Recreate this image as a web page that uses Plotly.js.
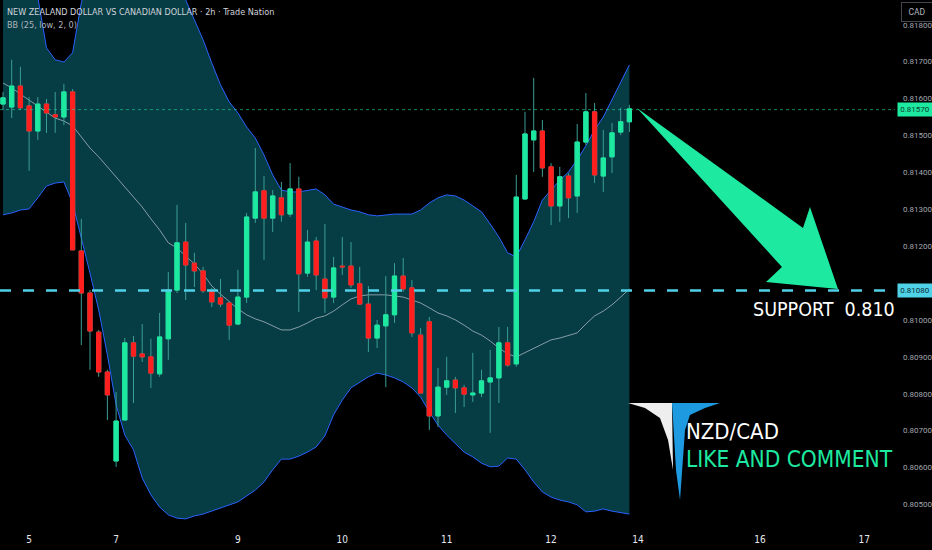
<!DOCTYPE html>
<html>
<head>
<meta charset="utf-8">
<script src="https://cdn.plot.ly/plotly-3.0.1.min.js"></script>
<style>
  html, body { margin: 0; padding: 0; background: #000; }
  #chart { width: 932px; height: 550px; }
</style>
</head>
<body>
<div id="chart"></div>
<script>
// ─── Data (NZDCAD 2h candles) ─────────────────────────────────────────────────

const candleOpen = [
  0.81585, 0.81577, 0.81634, 0.81580, 0.81512, 0.81585, 0.81556, 0.81550, 0.81618, 0.81187,
  0.81073, 0.80967, 0.80859, 0.80618, 0.80729, 0.80938, 0.80908, 0.80900, 0.80854, 0.80949,
  0.81081, 0.81211, 0.81154, 0.81133, 0.81079, 0.81060, 0.81046, 0.80989, 0.81062, 0.81276,
  0.81350, 0.81276, 0.81331, 0.81287, 0.81355, 0.81127, 0.81214, 0.81111, 0.81062, 0.81146,
  0.81146, 0.81098, 0.81043, 0.80951, 0.80984, 0.81014, 0.81119, 0.81087, 0.80959, 0.80995,
  0.80740, 0.80818, 0.80837, 0.80816, 0.80797, 0.80802, 0.80832, 0.80843, 0.80938, 0.80881,
  0.81328, 0.81488, 0.81512, 0.81415, 0.81309, 0.81390, 0.81336, 0.81482, 0.81564, 0.81390,
  0.81442, 0.81509, 0.81537,
];
const candleHigh = [
  0.81618, 0.81705, 0.81686, 0.81604, 0.81604, 0.81599, 0.81618, 0.81640, 0.81626, 0.81274,
  0.81081, 0.80973, 0.80865, 0.80805, 0.80951, 0.80957, 0.80989, 0.80949, 0.81019, 0.81130,
  0.81312, 0.81263, 0.81182, 0.81144, 0.81087, 0.81111, 0.81049, 0.81136, 0.81290, 0.81466,
  0.81390, 0.81352, 0.81374, 0.81425, 0.81388, 0.81244, 0.81225, 0.81260, 0.81171, 0.81225,
  0.81211, 0.81144, 0.81092, 0.81000, 0.81119, 0.81154, 0.81168, 0.81108, 0.80978, 0.81008,
  0.80870, 0.80900, 0.80846, 0.80824, 0.80911, 0.80865, 0.80919, 0.80981, 0.80981, 0.81393,
  0.81564, 0.81656, 0.81542, 0.81425, 0.81415, 0.81398, 0.81531, 0.81615, 0.81588, 0.81515,
  0.81534, 0.81575, 0.81583,
];
const candleLow = [
  0.81569, 0.81547, 0.81569, 0.81404, 0.81488, 0.81507, 0.81507, 0.81528, 0.81190, 0.80932,
  0.80865, 0.80846, 0.80729, 0.80602, 0.80729, 0.80775, 0.80886, 0.80816, 0.80846, 0.80892,
  0.81073, 0.81054, 0.81089, 0.81073, 0.81035, 0.81035, 0.80946, 0.80986, 0.81046, 0.81263,
  0.81163, 0.81238, 0.81266, 0.81279, 0.81022, 0.81117, 0.81081, 0.81019, 0.81046, 0.81122,
  0.81087, 0.81041, 0.80913, 0.80924, 0.80818, 0.80992, 0.81076, 0.80954, 0.80802, 0.80702,
  0.80710, 0.80797, 0.80748, 0.80764, 0.80778, 0.80791, 0.80694, 0.80775, 0.80873, 0.80873,
  0.81325, 0.81401, 0.81388, 0.81257, 0.81266, 0.81276, 0.81290, 0.81474, 0.81371, 0.81347,
  0.81398, 0.81501, 0.81509,
];
const candleClose = [
  0.81602, 0.81634, 0.81575, 0.81512, 0.81585, 0.81561, 0.81550, 0.81618, 0.81190, 0.81073,
  0.80970, 0.80859, 0.80797, 0.80726, 0.80938, 0.80902, 0.80900, 0.80856, 0.80954, 0.81081,
  0.81209, 0.81149, 0.81133, 0.81079, 0.81049, 0.81043, 0.80986, 0.81062, 0.81279, 0.81347,
  0.81276, 0.81336, 0.81285, 0.81355, 0.81125, 0.81211, 0.81122, 0.81060, 0.81141, 0.81144,
  0.81095, 0.81043, 0.80951, 0.80986, 0.81014, 0.81119, 0.81084, 0.80965, 0.80802, 0.80740,
  0.80818, 0.80835, 0.80816, 0.80799, 0.80802, 0.80835, 0.80843, 0.80938, 0.80878, 0.81333,
  0.81504, 0.81512, 0.81412, 0.81309, 0.81388, 0.81331, 0.81482, 0.81564, 0.81393, 0.81439,
  0.81507, 0.81537, 0.81572,
];

// Bollinger Bands (25, low, 2, 0) as drawn; values above the top edge are estimates
const bbUpper = [
  0.81949, 0.81935, 0.81921, 0.81900, 0.81875, 0.81737, 0.81705, 0.81699, 0.81724, 0.81859,
  0.81949, 0.82003, 0.82030, 0.82043, 0.82043, 0.82030, 0.82016, 0.81989, 0.81962, 0.81935,
  0.81900, 0.81867, 0.81813, 0.81759, 0.81696, 0.81637, 0.81591, 0.81561, 0.81523, 0.81493,
  0.81447, 0.81393, 0.81352, 0.81347, 0.81347, 0.81352, 0.81355, 0.81339, 0.81314, 0.81306,
  0.81298, 0.81293, 0.81285, 0.81282, 0.81285, 0.81287, 0.81287, 0.81287, 0.81298, 0.81317,
  0.81331, 0.81339, 0.81336, 0.81325, 0.81309, 0.81293, 0.81260, 0.81225, 0.81182, 0.81171,
  0.81217, 0.81266, 0.81325, 0.81352, 0.81379, 0.81401, 0.81434, 0.81472, 0.81515, 0.81550,
  0.81596, 0.81645, 0.81691,
];
const bbBasis = [
  0.81642, 0.81629, 0.81612, 0.81596, 0.81580, 0.81564, 0.81547, 0.81539, 0.81526, 0.81496,
  0.81466, 0.81442, 0.81415, 0.81385, 0.81358, 0.81331, 0.81306, 0.81274, 0.81244, 0.81209,
  0.81195, 0.81173, 0.81152, 0.81125, 0.81092, 0.81070, 0.81049, 0.81030, 0.81014, 0.81003,
  0.80995, 0.80984, 0.80973, 0.80973, 0.80981, 0.80992, 0.81005, 0.81011, 0.81024, 0.81041,
  0.81057, 0.81065, 0.81068, 0.81068, 0.81068, 0.81065, 0.81062, 0.81054, 0.81046, 0.81033,
  0.81019, 0.81011, 0.81000, 0.80986, 0.80970, 0.80959, 0.80943, 0.80924, 0.80908, 0.80900,
  0.80911, 0.80924, 0.80935, 0.80946, 0.80951, 0.80957, 0.80965, 0.80989, 0.81011, 0.81024,
  0.81041, 0.81062, 0.81084,
];
const bbLower = [
  0.81285, 0.81290, 0.81298, 0.81301, 0.81331, 0.81363, 0.81371, 0.81374, 0.81317, 0.81225,
  0.81127, 0.81027, 0.80905, 0.80770, 0.80688, 0.80648, 0.80572, 0.80526, 0.80493, 0.80472,
  0.80463, 0.80461, 0.80469, 0.80474, 0.80482, 0.80491, 0.80499, 0.80507, 0.80523, 0.80539,
  0.80561, 0.80594, 0.80623, 0.80623, 0.80631, 0.80642, 0.80656, 0.80686, 0.80743, 0.80783,
  0.80816, 0.80832, 0.80846, 0.80856, 0.80851, 0.80843, 0.80832, 0.80816, 0.80791, 0.80751,
  0.80715, 0.80688, 0.80664, 0.80642, 0.80629, 0.80612, 0.80602, 0.80604, 0.80626, 0.80623,
  0.80594, 0.80561, 0.80534, 0.80520, 0.80512, 0.80507, 0.80499, 0.80480, 0.80482, 0.80488,
  0.80482, 0.80477, 0.80474,
];

// Day labels on the time axis (bar index → date)
const dayTickIdx  = [3, 13, 27, 39, 51, 63, 73, 87, 99];
const dayTickText = ['5', '7', '9', '10', '11', '12', '14', '16', '17'];

// 0.81100 sits under the support tag, so it is left out as in the picture
const priceTicks = [0.805, 0.806, 0.807, 0.808, 0.809, 0.810,
                    0.812, 0.813, 0.814, 0.815, 0.816, 0.817, 0.818];
const lastPrice = 0.81570;
const supportPrice = 0.81080;

// ─── Look ─────────────────────────────────────────────────────────────────────

const GREEN = '#1de9a0';
const RED = '#ff1f1f';
const WICK = '#3a9e94';
const BAND_FILL = '#063c43';
const BAND_LINE = '#2962ff';
const CYAN = '#4fd1e8';
const NARROW = '"Liberation Sans Narrow", "DejaVu Sans Condensed", "Roboto Condensed", sans-serif';

const X_RANGE = [-0.345, 102.53];
const Y_RANGE = [0.80439, 0.81867];

// plot area in pixels, for the hand-drawn overlays (arrow, logo)
const PW = 895, PH = 527;
const px = x => x / PW;
const py = y => 1 - y / PH;
const poly = pts => 'M' + pts.map(([x, y]) => `${px(x).toFixed(4)},${py(y).toFixed(4)}`).join('L') + 'Z';

const idx = candleClose.map((_, i) => i);

// ─── Traces ───────────────────────────────────────────────────────────────────

const traces = [
  // band: upper line, lower line filled back to upper, basis
  {
    type: 'scatter', mode: 'lines', x: idx, y: bbUpper,
    line: { color: BAND_LINE, width: 1 }, hoverinfo: 'skip',
  },
  {
    type: 'scatter', mode: 'lines', x: idx, y: bbLower,
    line: { color: BAND_LINE, width: 1 }, fill: 'tonexty', fillcolor: BAND_FILL,
    hoverinfo: 'skip',
  },
  {
    type: 'scatter', mode: 'lines', x: idx, y: bbBasis,
    line: { color: 'rgba(178,190,200,0.75)', width: 1 }, hoverinfo: 'skip',
  },
  // wicks (drawn on the overlay subplot so they sit above the band fill)
  {
    type: 'candlestick', x: idx, xaxis: 'x2', yaxis: 'y2',
    open: candleOpen, high: candleHigh, low: candleLow, close: candleClose,
    increasing: { line: { color: WICK, width: 1 }, fillcolor: 'rgba(0,0,0,0)' },
    decreasing: { line: { color: WICK, width: 1 }, fillcolor: 'rgba(0,0,0,0)' },
    whiskerwidth: 0, hoverinfo: 'skip',
  },
  // bodies only
  {
    type: 'candlestick', x: idx, xaxis: 'x2', yaxis: 'y2',
    open: candleOpen, close: candleClose,
    high: candleOpen.map((o, i) => Math.max(o, candleClose[i])),
    low: candleOpen.map((o, i) => Math.min(o, candleClose[i])),
    increasing: { line: { color: GREEN, width: 1 }, fillcolor: GREEN },
    decreasing: { line: { color: RED, width: 1 }, fillcolor: RED },
    whiskerwidth: 0,
  },
];

// ─── Layout ───────────────────────────────────────────────────────────────────

const priceTag = (price, text, bg, fg) => ({
  xref: 'paper', x: 1, xanchor: 'left', xshift: 2,
  yref: 'y', y: price, yanchor: 'middle',
  text, showarrow: false, bgcolor: bg, borderpad: 2, width: 30,
  font: { family: 'Roboto, sans-serif', size: 8, color: fg },
});

const note = (x, y, text, size, color, family = NARROW) => ({
  xref: 'paper', yref: 'paper', x: px(x), y: py(y),
  xanchor: 'left', yanchor: 'middle', showarrow: false,
  text, font: { family, size, color },
});

const layout = {
  width: 932, height: 550,
  margin: { l: 0, r: 37, t: 0, b: 23 },
  paper_bgcolor: '#000000',
  plot_bgcolor: '#000000',
  showlegend: false,
  hovermode: false,
  xaxis: {
    range: X_RANGE, tickvals: dayTickIdx, ticktext: dayTickText,
    showgrid: false, zeroline: false, showline: false, ticks: '',
    tickfont: { family: NARROW, size: 10, color: '#e6e8ee' },
    ticklabelstandoff: 5,
    rangeslider: { visible: false }, fixedrange: true,
  },
  yaxis: {
    range: Y_RANGE, side: 'right', tickvals: priceTicks, tickformat: '.5f',
    showgrid: false, zeroline: false, showline: false, ticks: '',
    tickfont: { family: 'Roboto, sans-serif', size: 8, color: '#a3a6af' },
    ticklabelstandoff: 7, fixedrange: true,
  },
  xaxis2: {
    overlaying: 'x', range: X_RANGE, visible: false,
    rangeslider: { visible: false }, fixedrange: true,
  },
  yaxis2: {
    overlaying: 'y', range: Y_RANGE, visible: false, fixedrange: true,
  },
  shapes: [
    // last price dotted line
    {
      type: 'line', xref: 'paper', x0: 0, x1: 1, yref: 'y', y0: lastPrice, y1: lastPrice,
      line: { color: 'rgba(29,233,160,0.55)', width: 1, dash: 'dot' },
    },
    // support line
    {
      type: 'line', xref: 'paper', x0: 0, x1: 1, yref: 'y', y0: supportPrice, y1: supportPrice,
      line: { color: CYAN, width: 2.5, dash: '11px,12px' },
    },
    // big down arrow
    {
      type: 'path', xref: 'paper', yref: 'paper', line: { width: 0 }, fillcolor: GREEN,
      path: poly([[637, 108], [803, 228], [810, 207], [838, 289], [766, 282], [782, 267]]),
    },
    // logo: white blade + blue blade
    {
      type: 'path', xref: 'paper', yref: 'paper', line: { width: 0 }, fillcolor: '#eeeeee',
      path: poly([[628, 403], [672, 403], [673, 470], [668, 440], [660, 418], [645, 408]]),
    },
    {
      type: 'path', xref: 'paper', yref: 'paper', line: { width: 0 }, fillcolor: '#1e9be0',
      path: poly([[672, 403], [720, 403], [705, 408], [690, 415], [685, 430], [680, 500], [676, 470], [673, 420]]),
    },
  ],
  annotations: [
    note(5, 12, 'NEW ZEALAND DOLLAR VS CANADIAN DOLLAR · 2h · Trade Nation', 9, '#d1d4dc'),
    note(5, 25, 'BB (25, low, 2, 0)', 9, '#b2b5be'),
    note(751, 309, 'SUPPORT&nbsp;&nbsp;0.810', 19.5, '#ffffff'),
    note(684, 431, 'NZD/CAD', 22, '#ffffff'),
    note(684, 459, 'LIKE AND COMMENT', 22.5, GREEN),
    priceTag(lastPrice, '0.81570', GREEN, '#0b3d2e'),
    priceTag(supportPrice, '0.81080', CYAN, '#0b2a33'),
    {
      xref: 'paper', x: 1, xanchor: 'left', xshift: 6,
      yref: 'paper', y: 1, yanchor: 'top', yshift: -2,
      text: 'CAD', showarrow: false, bgcolor: '#000000', width: 22,
      bordercolor: '#434651', borderwidth: 1, borderpad: 4,
      font: { family: 'Roboto, sans-serif', size: 8.5, color: '#b2b5be' },
    },
  ],
};

Plotly.newPlot('chart', traces, layout, { displayModeBar: false, staticPlot: true });
</script>
</body>
</html>
